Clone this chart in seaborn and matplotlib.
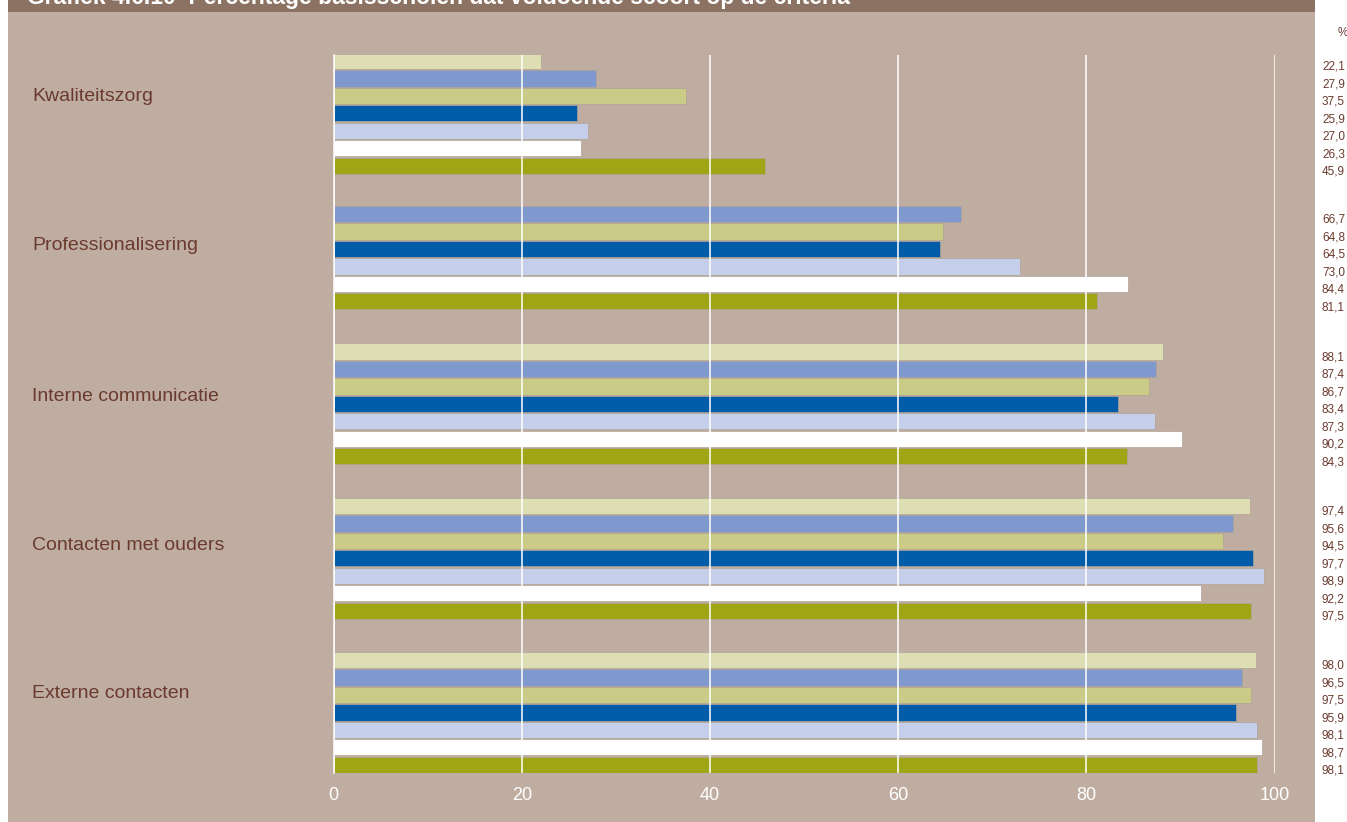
import numpy as np
import pandas as pd
import matplotlib
matplotlib.use("Agg")
import matplotlib.pyplot as plt
from matplotlib.patches import Rectangle
from matplotlib.transforms import blended_transform_factory
from matplotlib import font_manager
import seaborn as sns

# ---- data -------------------------------------------------------------
criteria = ["Kwaliteitszorg", "Professionalisering", "Interne communicatie",
            "Contacten met ouders", "Externe contacten"]
series = ["reeks 1", "reeks 2", "reeks 3", "reeks 4", "reeks 5", "reeks 6", "reeks 7"]

kwaliteitszorg = [22.1, 27.9, 37.5, 25.9, 27.0, 26.3, 45.9]
professionalisering = [np.nan, 66.7, 64.8, 64.5, 73.0, 84.4, 81.1]
interne_communicatie = [88.1, 87.4, 86.7, 83.4, 87.3, 90.2, 84.3]
contacten_ouders = [97.4, 95.6, 94.5, 97.7, 98.9, 92.2, 97.5]
externe_contacten = [98.0, 96.5, 97.5, 95.9, 98.1, 98.7, 98.1]

x_ticks = [0, 20, 40, 60, 80, 100]
title = "Grafiek 4.6.10  Percentage basisscholen dat voldoende scoort op de criteria"

# ---- styling / layout -------------------------------------------------
colors = ["#dddeb3", "#7f99cf", "#cbcb88", "#005ca9", "#c5cfe9", "#ffffff", "#9fa616"]
panel_bg = "#bfada1"
title_bg = "#8c7262"
text_brown = "#6b3a2e"

group_start = [0.0, 7.77, 16.65, 25.5, 34.33]       # row offset of each group
label_rows = [2.06, 10.6, 19.2, 27.74, 36.27]       # row of each category name

sns.set_theme(style="white")


def pick_font(candidates):
    names = {f.name for f in font_manager.fontManager.ttflist}
    for c in candidates:
        if c in names:
            return c
    return "DejaVu Sans"


base_font = pick_font(["Liberation Sans", "Roboto", "DejaVu Sans"])
plt.rcParams["font.family"] = [base_font, "DejaVu Sans"]

# ---- long table -------------------------------------------------------
values = [kwaliteitszorg, professionalisering, interne_communicatie,
          contacten_ouders, externe_contacten]
rows = []
for g, (crit, vals) in enumerate(zip(criteria, values)):
    for i, (s, v) in enumerate(zip(series, vals)):
        rows.append({"criterium": crit, "reeks": s, "waarde": v,
                     "positie": group_start[g] + i})
df = pd.DataFrame(rows)
df_bars = df.dropna(subset=["waarde"])

# ---- figure -----------------------------------------------------------
W, H = 1347, 822
fig = plt.figure(figsize=(W / 100, H / 100), dpi=100)
fig.patch.set_facecolor("white")

fig.add_artist(Rectangle((8 / W, 0), 1307 / W, 810 / H, transform=fig.transFigure,
                         facecolor=panel_bg, edgecolor="none", zorder=-2))
fig.add_artist(Rectangle((8 / W, 810 / H), 1307 / W, 12 / H, transform=fig.transFigure,
                         facecolor=title_bg, edgecolor="none", zorder=-2))
fig.text(27 / W, 1 - 4 / H, title, color="white", fontsize=16.5, fontweight="bold",
         ha="left", va="baseline")

ax = fig.add_axes([333.5 / W, 49 / H, 941 / W, 718 / H])
ax.set_facecolor("none")

sns.barplot(data=df_bars, x="waarde", y="positie", hue="reeks", hue_order=series,
            palette=colors, orient="h", native_scale=True, dodge=False,
            width=0.93, errorbar=None, saturation=1, legend=False,
            edgecolor="#b0a398", linewidth=0.5, ax=ax)

ax.set_xlim(0, 100)
ax.set_ylim(40.80, -0.344)
ax.set_xticks(x_ticks)
ax.set_xticklabels([str(t) for t in x_ticks], color="white", fontsize=13)
ax.set_yticks([])
ax.set_xlabel("")
ax.set_ylabel("")
ax.tick_params(axis="x", length=0, pad=10)
ax.set_axisbelow(False)
ax.grid(axis="x", color="white", linewidth=1.1)
ax.grid(axis="y", visible=False)
for side in ["top", "right", "bottom"]:
    ax.spines[side].set_visible(False)
ax.spines["left"].set_color("white")
ax.spines["left"].set_linewidth(1.1)

# category names on the left
tr_left = blended_transform_factory(fig.transFigure, ax.transData)
for crit, r in zip(criteria, label_rows):
    ax.text(32 / W, r, crit, transform=tr_left, ha="left", va="center",
            fontsize=14, color=text_brown, clip_on=False)

# value column on the right
for _, row in df.iterrows():
    if np.isnan(row["waarde"]):
        continue
    ax.text(1322 / W, row["positie"] + 0.33, f"{row['waarde']:.1f}".replace(".", ","),
            transform=tr_left, ha="left", va="center", fontsize=8.5,
            color=text_brown, clip_on=False)
fig.text(1338 / W, 1 - 33 / H, "%", ha="left", va="center", fontsize=8.5,
         color=text_brown)

fig.savefig("out.png", dpi=100)
